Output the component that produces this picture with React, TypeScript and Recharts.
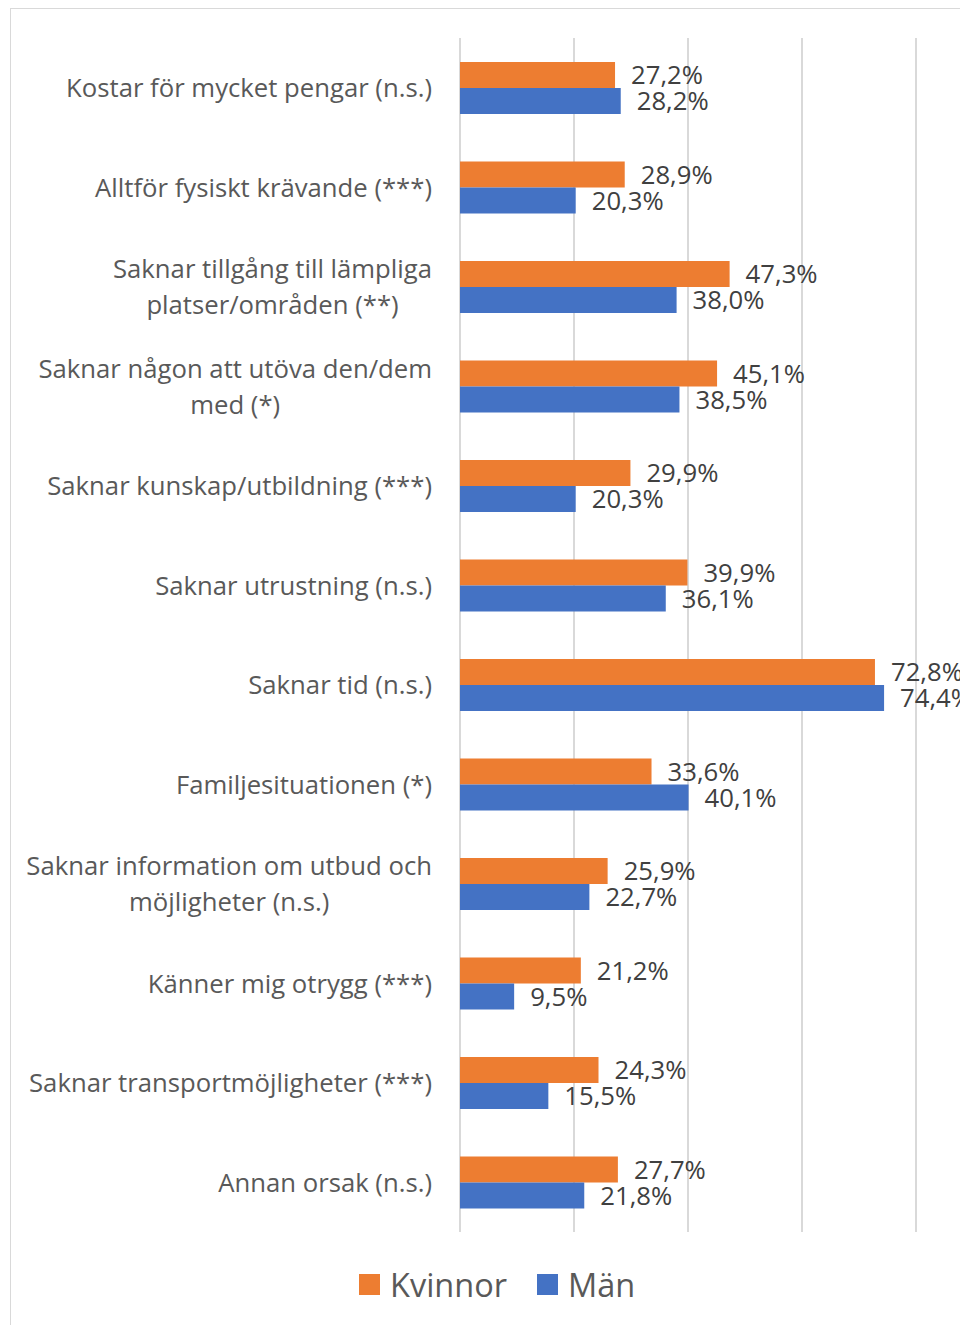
import React from 'react';
import {
  BarChart,
  Bar,
  XAxis,
  YAxis,
  CartesianGrid,
  LabelList,
} from 'recharts';

const categories = [
  'Kostar för mycket pengar (n.s.)',
  'Alltför fysiskt krävande (***)',
  'Saknar tillgång till lämpliga\nplatser/områden (**)',
  'Saknar någon att utöva den/dem\nmed (*)',
  'Saknar kunskap/utbildning (***)',
  'Saknar utrustning (n.s.)',
  'Saknar tid (n.s.)',
  'Familjesituationen (*)',
  'Saknar information om utbud och\nmöjligheter (n.s.)',
  'Känner mig otrygg (***)',
  'Saknar transportmöjligheter (***)',
  'Annan orsak (n.s.)',
];
const kvinnor = [27.2, 28.9, 47.3, 45.1, 29.9, 39.9, 72.8, 33.6, 25.9, 21.2, 24.3, 27.7];
const man = [28.2, 20.3, 38.0, 38.5, 20.3, 36.1, 74.4, 40.1, 22.7, 9.5, 15.5, 21.8];
const xTicks = [0, 20, 40, 60, 80];

const data = categories.map((c, i) => ({ c, k: kvinnor[i], m: man[i] }));

const FONT = '"Open Sans", Lato, sans-serif';
const FS = 25.7;
const ORANGE = '#ED7D31';
const BLUE = '#4472C4';

let ctx: CanvasRenderingContext2D | null = null;
function textWidth(s: string) {
  if (!ctx) ctx = document.createElement('canvas').getContext('2d');
  if (!ctx) return s.length * 12;
  ctx.font = `${FS}px "Open Sans"`;
  return ctx.measureText(s).width;
}

const fmt = (v: any) => Number(v).toFixed(1).replace('.', ',') + '%';

function CatTick(props: any) {
  const { x, y, payload } = props;
  const lines: string[] = String(payload.value).split('\n');
  const lh = 36;
  const y0 = y - ((lines.length - 1) * lh) / 2;
  const w = Math.max(...lines.map(textWidth));
  const cx = x - w / 2;
  return (
    <g>
      {lines.map((l, i) => (
        <text
          key={i}
          x={lines.length > 1 ? cx : x}
          y={y0 + i * lh}
          textAnchor={lines.length > 1 ? 'middle' : 'end'}
          dominantBaseline="central"
          fontSize={FS}
          fontFamily={FONT}
          fill="#595959"
        >
          {l}
        </text>
      ))}
    </g>
  );
}

function LegendBox() {
  const items = [
    { name: 'Kvinnor', color: ORANGE },
    { name: 'Män', color: BLUE },
  ];
  return (
    <div
      style={{
        position: 'absolute',
        left: 359,
        top: 1262,
        display: 'flex',
        alignItems: 'center',
        gap: 30,
        fontFamily: FONT,
      }}
    >
      {items.map((it) => (
        <div key={it.name} style={{ display: 'flex', alignItems: 'center', gap: 10 }}>
          <span style={{ width: 21, height: 21, background: it.color, display: 'inline-block' }} />
          <span style={{ fontSize: 32.5, color: '#595959' }}>{it.name}</span>
        </div>
      ))}
    </div>
  );
}

export default function App() {
  return (
    <div
      style={{
        position: 'absolute',
        left: 0,
        top: 0,
        width: 960,
        height: 1325,
        overflow: 'hidden',
        background: '#fff',
      }}
    >
      <div
        style={{
          position: 'absolute',
          left: 10,
          top: 8,
          width: 1000,
          height: 1330,
          border: '1.5px solid #d9d9d9',
          boxSizing: 'border-box',
        }}
      />
      <div style={{ position: 'absolute', left: 0, top: 0 }}>
        <BarChart
          width={960}
          height={1325}
          data={data}
          layout="vertical"
          margin={{ top: 38, right: 44, bottom: 93, left: 0 }}
          barSize={26}
          barGap={0}
        >
          <CartesianGrid horizontal={false} stroke="#d9d9d9" strokeWidth={2} />
          <XAxis type="number" domain={[0, 80]} ticks={xTicks} hide />
          <YAxis
            type="category"
            dataKey="c"
            width={460}
            axisLine={false}
            tickLine={false}
            tickSize={0}
            tickMargin={28}
            interval={0}
            tick={<CatTick />}
          />
          <Bar dataKey="k" name="Kvinnor" fill={ORANGE} isAnimationActive={false}>
            <LabelList
              dataKey="k"
              position="right"
              offset={16}
              formatter={fmt}
              fontSize={FS}
              fontFamily={FONT}
              fill="#404040"
            />
          </Bar>
          <Bar dataKey="m" name="Män" fill={BLUE} isAnimationActive={false}>
            <LabelList
              dataKey="m"
              position="right"
              offset={16}
              formatter={fmt}
              fontSize={FS}
              fontFamily={FONT}
              fill="#404040"
            />
          </Bar>
        </BarChart>
      </div>
      <LegendBox />
    </div>
  );
}
